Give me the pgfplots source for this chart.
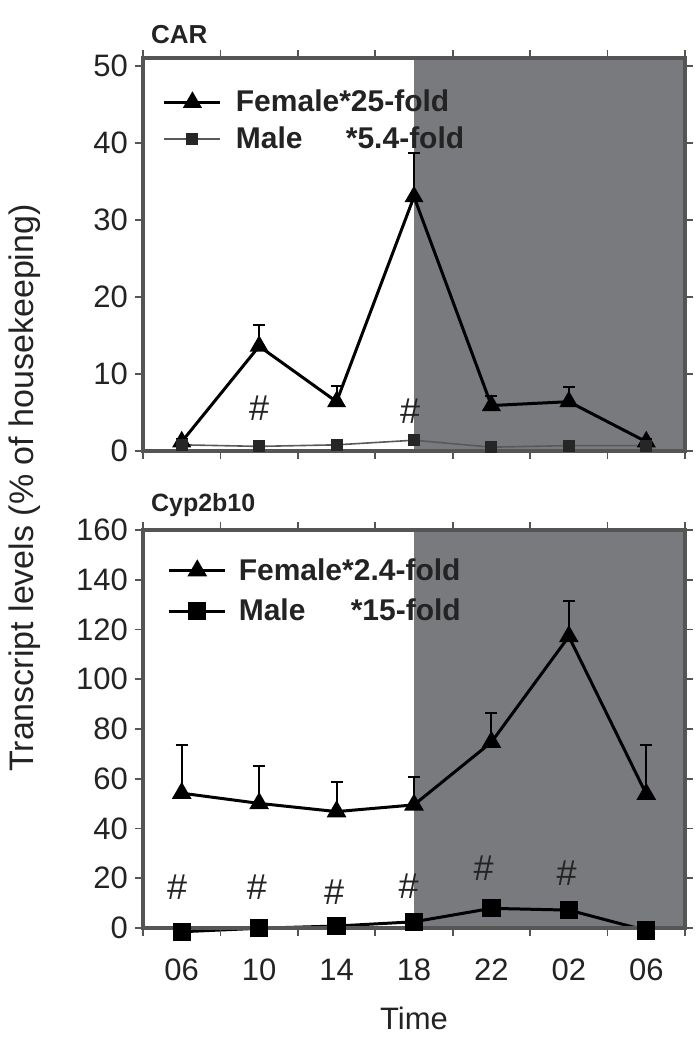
\documentclass[border=0pt]{standalone}
\usepackage{fontspec}
\setmainfont{Liberation Sans}
\usepackage{pgfplots}
\pgfplotsset{compat=1.18}
\definecolor{shade}{RGB}{120,122,126}
\definecolor{frame}{RGB}{85,85,85}
\definecolor{txt}{RGB}{35,35,35}
\tikzset{hashnode/.style={font=\fontsize{18}{20}\selectfont, text=txt}}

\begin{document}
\begin{tikzpicture}
\useasboundingbox (0pt,0pt) rectangle (348pt,-525pt);
\pgfplotsset{
  myaxis/.style={
    scale only axis, width=271pt, xmin=-0.5, xmax=6.5, clip=false, axis on top,
    axis line style={draw=frame, line width=2pt},
    tick align=outside,
    xtick={-0.5,0.5,...,6.5}, xticklabels={},
    major tick length=4pt,
    tick style={draw=frame, line width=0.8pt},
    ticklabel style={font=\fontsize{15.5}{18}\selectfont, text=txt},
    /pgf/number format/assume math mode=true,
    legend style={draw=none, fill=none, inner sep=0pt, font=\bfseries\fontsize{15}{18}\selectfont, text=txt, legend cell align=left, anchor=north west, row sep=2pt},
    legend image code/.code={\draw[mark repeat=2,mark phase=2] plot coordinates {(0pt,0pt) (14pt,0pt) (28pt,0pt)};},
  },
  ebar/.style={error bars/.cd, y dir=plus, y explicit,
    error bar style={black, line width=1pt},
    error mark options={rotate=90, black, line width=1pt, mark size=3pt}},
}
% ---------------- CAR ----------------
\begin{axis}[myaxis, at={(71.5pt,-225.5pt)}, anchor=south west, height=196.5pt,
  ymin=0, ymax=51, ytick={0,10,...,50},
  legend style={at={(axis description cs:0.036,0.93)}}]
\addplot[fill=shade, draw=none, mark=none, forget plot] coordinates {(3,0) (6.5,0) (6.5,51) (3,51)} -- cycle;
\addplot[black, line width=1.5pt, mark=triangle*, mark size=4pt, mark options={solid}, ebar] coordinates {
 (0,1.2) +- (0,0.3)
 (1,13.6) +- (0,2.8)
 (2,6.4) +- (0,2.0)
 (3,33.0) +- (0,5.7)
 (4,5.9) +- (0,1.3)
 (5,6.4) +- (0,1.9)
 (6,1.2) +- (0,0.3)};
\addlegendentry{\hspace{5pt}Female*25-fold}
\addplot[black!65, line width=0.8pt, mark=square*, mark size=2.6pt, mark options={fill=black!85, draw=black!85}] coordinates {
 (0,0.8) (1,0.6) (2,0.8) (3,1.4) (4,0.5) (5,0.7) (6,0.7)};
\addlegendentry{\hspace{5pt}\makebox[55pt][l]{Male}*5.4-fold}
\node[hashnode] at (axis cs:1,5.6) {\#};
\node[hashnode] at (axis cs:2.95,5.2) {\#};
\end{axis}
\node[anchor=west, font=\bfseries\fontsize{13}{15}\selectfont, text=txt] at (72pt,-17.5pt) {CAR};

% ---------------- Cyp2b10 ----------------
\begin{axis}[myaxis, at={(71.5pt,-464pt)}, anchor=south west, height=199pt,
  ymin=0, ymax=160, ytick={0,20,...,160},
  extra x ticks={0,...,6}, extra x tick labels={06,10,14,18,22,02,06},
  extra x tick style={major tick length=0pt, xticklabel style={yshift=-12pt}},
  legend style={at={(axis description cs:0.045,0.94)}, row sep=4pt}]
\addplot[fill=shade, draw=none, mark=none, forget plot] coordinates {(3,0) (6.5,0) (6.5,160) (3,160)} -- cycle;
\addplot[black, line width=1.5pt, mark=triangle*, mark size=4.2pt, mark options={solid}, ebar] coordinates {
 (0,54.2) +- (0,19.4)
 (1,50.1) +- (0,15.1)
 (2,46.8) +- (0,11.8)
 (3,49.5) +- (0,11.4)
 (4,74.7) +- (0,11.7)
 (5,117.2) +- (0,14.1)
 (6,53.8) +- (0,19.8)};
\addlegendentry{\hspace{4pt}Female*2.4-fold}
\addplot[black, line width=1.5pt, mark=square*, mark size=3.8pt, mark options={solid}] coordinates {
 (0,-1.5) (1,-0.1) (2,0.8) (3,2.5) (4,7.9) (5,7.2) (6,-1.0)};
\addlegendentry{\hspace{4pt}\makebox[56pt][l]{Male}*15-fold}
\node[hashnode] at (axis cs:-0.06,16.6) {\#};
\node[hashnode] at (axis cs:0.97,16.6) {\#};
\node[hashnode] at (axis cs:1.97,14.6) {\#};
\node[hashnode] at (axis cs:2.93,16.9) {\#};
\node[hashnode] at (axis cs:3.9,24) {\#};
\node[hashnode] at (axis cs:4.97,22) {\#};
\node[font=\fontsize{15.5}{18}\selectfont, text=txt] at (axis description cs:0.5,0) [yshift=-45pt] {Time};
\end{axis}
\node[anchor=west, font=\bfseries\fontsize{12.5}{15}\selectfont, text=txt] at (72pt,-252.5pt) {Cyp2b10};

\node[rotate=90, font=\fontsize{17}{20}\selectfont, text=txt] at (12.5pt,-244pt) {Transcript levels (\% of housekeeping)};
\end{tikzpicture}
\end{document}
